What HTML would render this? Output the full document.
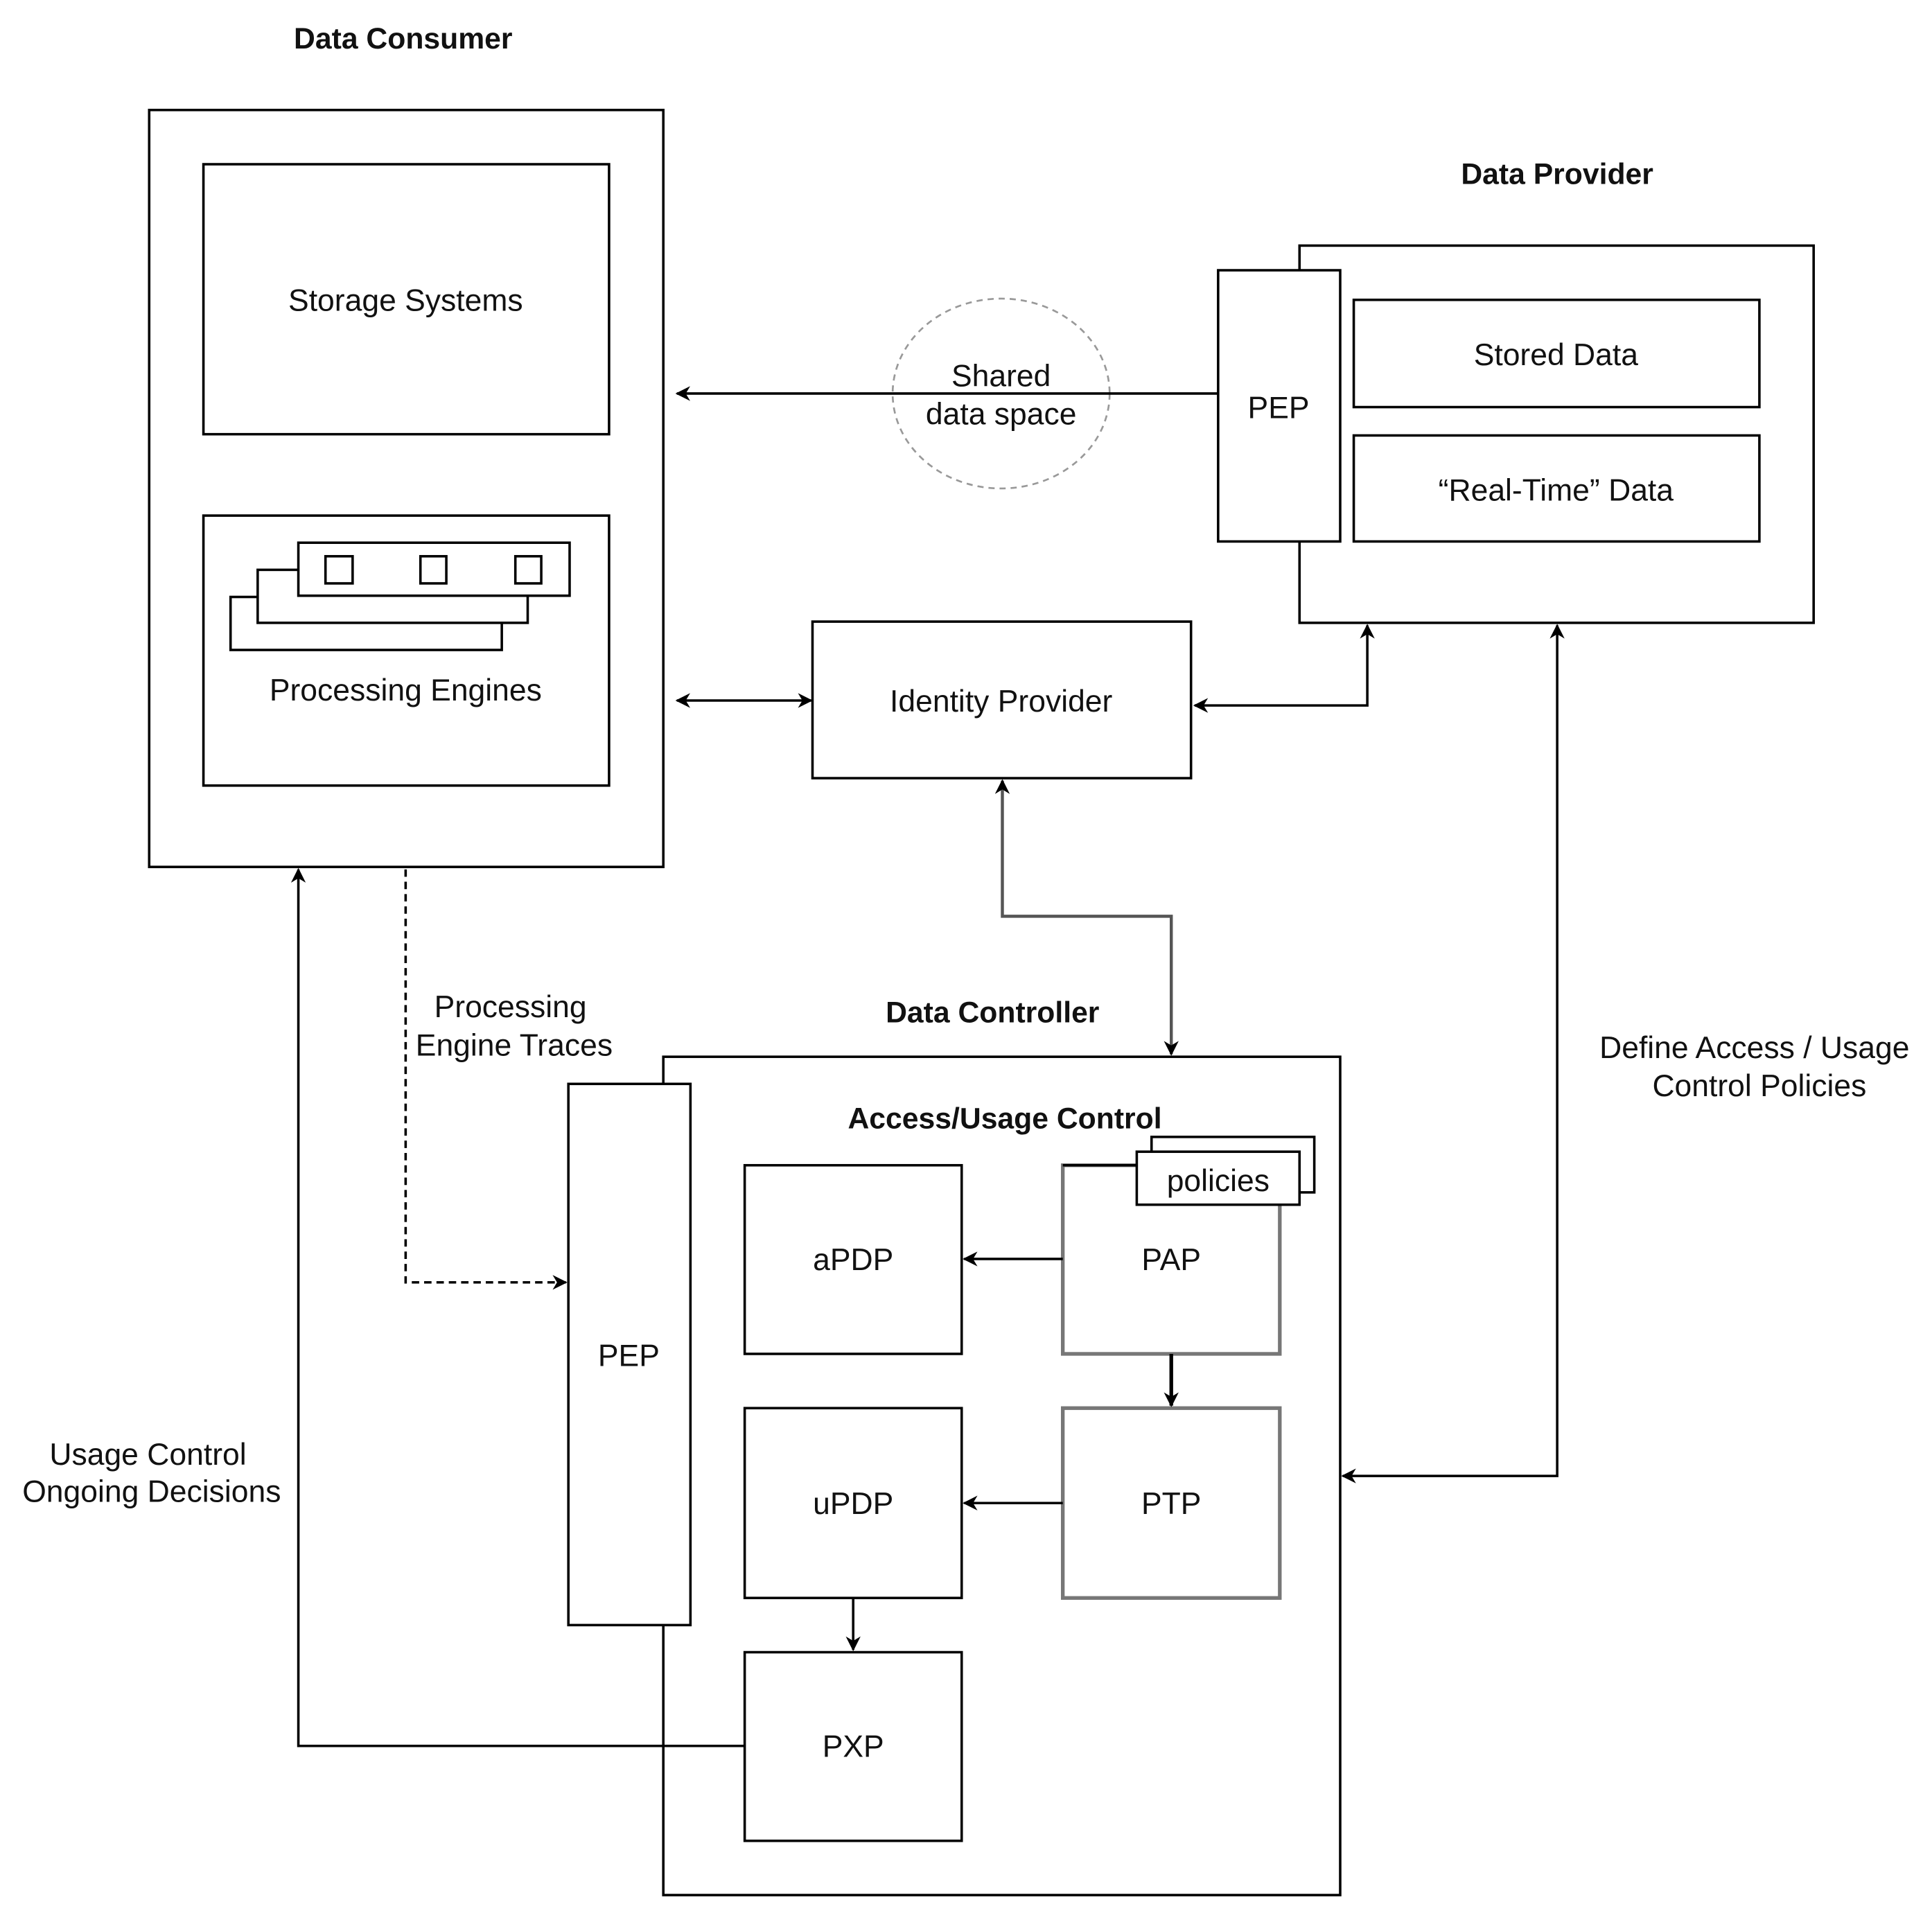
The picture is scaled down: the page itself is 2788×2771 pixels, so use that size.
<!DOCTYPE html>
<html><head><meta charset="utf-8"><style>
html,body{margin:0;padding:0;background:#fff;}
svg{display:block;}
text{font-family:"Liberation Sans",Arial,sans-serif;fill:#111;}
</style></head><body>
<svg width="2788" height="2771" viewBox="0 0 1567 1557" xmlns="http://www.w3.org/2000/svg">
<defs>
<marker id="a" viewBox="0 0 10 10" refX="9" refY="5" markerWidth="13" markerHeight="12" orient="auto-start-reverse" markerUnits="userSpaceOnUse"><path d="M0,0 L10,5 L0,10 L3,5 z" fill="#000"/></marker>
</defs>
<g fill="none" stroke="#000" stroke-width="2">
<rect x="121" y="89" width="417" height="614"/>
<rect x="165" y="133" width="329" height="219"/>
<rect x="165" y="418" width="329" height="219"/>
<rect x="187" y="484" width="220" height="43" fill="#fff"/>
<rect x="209" y="462" width="219" height="43" fill="#fff"/>
<rect x="242" y="440" width="220" height="43" fill="#fff"/>
<rect x="264" y="451" width="22" height="22"/>
<rect x="341" y="451" width="21" height="22"/>
<rect x="418" y="451" width="21" height="22"/>
<rect x="1054" y="199" width="417" height="306"/>
<rect x="988" y="219" width="99" height="220" fill="#fff"/>
<rect x="1098" y="243" width="329" height="87"/>
<rect x="1098" y="353" width="329" height="86"/>
<ellipse cx="812" cy="319" rx="88" ry="77" stroke="#999" stroke-width="1.5" stroke-dasharray="5,4"/>
<rect x="659" y="504" width="307" height="127"/>
<rect x="538" y="857" width="549" height="680"/>
<rect x="461" y="879" width="99" height="439" fill="#fff"/>
<rect x="604" y="945" width="176" height="153"/>
<rect x="862" y="945" width="176" height="153" stroke="#777" stroke-width="3"/>
<line x1="862" y1="945" x2="1038" y2="945"/>
<rect x="934" y="922" width="132" height="45" fill="#fff"/>
<rect x="922" y="934" width="132" height="43" fill="#fff"/>
<rect x="604" y="1142" width="176" height="154"/>
<rect x="862" y="1142" width="176" height="154" stroke="#777" stroke-width="3"/>
<rect x="604" y="1340" width="176" height="153"/>
<line x1="988" y1="319" x2="549" y2="319" marker-end="url(#a)"/>
<line x1="549" y1="568" x2="658" y2="568" marker-start="url(#a)" marker-end="url(#a)"/>
<polyline points="969,572 1109,572 1109,507" marker-start="url(#a)" marker-end="url(#a)"/>
<polyline points="813,633 813,743 950,743 950,855" stroke="#555" stroke-width="2.5" marker-start="url(#a)" marker-end="url(#a)"/>
<polyline points="1263,507 1263,1197 1089,1197" marker-start="url(#a)" marker-end="url(#a)"/>
<line x1="862" y1="1021" x2="782" y2="1021" marker-end="url(#a)"/>
<line x1="950" y1="1098" x2="950" y2="1140" stroke-width="3" marker-end="url(#a)"/>
<line x1="862" y1="1219" x2="782" y2="1219" marker-end="url(#a)"/>
<line x1="692" y1="1296" x2="692" y2="1338" marker-end="url(#a)"/>
<polyline points="604,1416 242,1416 242,705" marker-end="url(#a)"/>
<polyline points="329,705 329,1040 459,1040" stroke-dasharray="6,4" marker-end="url(#a)"/>
</g>
<g font-size="25" text-anchor="middle">
<text x="327" y="39" font-weight="bold" font-size="24">Data Consumer</text>
<text x="1263" y="149" font-weight="bold" font-size="24">Data Provider</text>
<text x="805" y="829" font-weight="bold" font-size="24">Data Controller</text>
<text x="815" y="915" font-weight="bold" font-size="24">Access/Usage Control</text>
<text x="329" y="252">Storage Systems</text>
<text x="329" y="568">Processing Engines</text>
<text x="1037" y="339">PEP</text>
<text x="1262" y="296">Stored Data</text>
<text x="1262" y="406">“Real-Time” Data</text>
<text x="812" y="313">Shared</text>
<text x="812" y="344">data space</text>
<text x="812" y="577">Identity Provider</text>
<text x="510" y="1108">PEP</text>
<text x="692" y="1030">aPDP</text>
<text x="950" y="1030">PAP</text>
<text x="988" y="966">policies</text>
<text x="692" y="1228">uPDP</text>
<text x="950" y="1228">PTP</text>
<text x="692" y="1425">PXP</text>
<text x="414" y="825">Processing</text>
<text x="417" y="856">Engine Traces</text>
<text x="120" y="1188">Usage Control</text>
<text x="123" y="1218">Ongoing Decisions</text>
<text x="1423" y="858">Define Access / Usage</text>
<text x="1427" y="889">Control Policies</text>
</g>
</svg>
</body></html>
